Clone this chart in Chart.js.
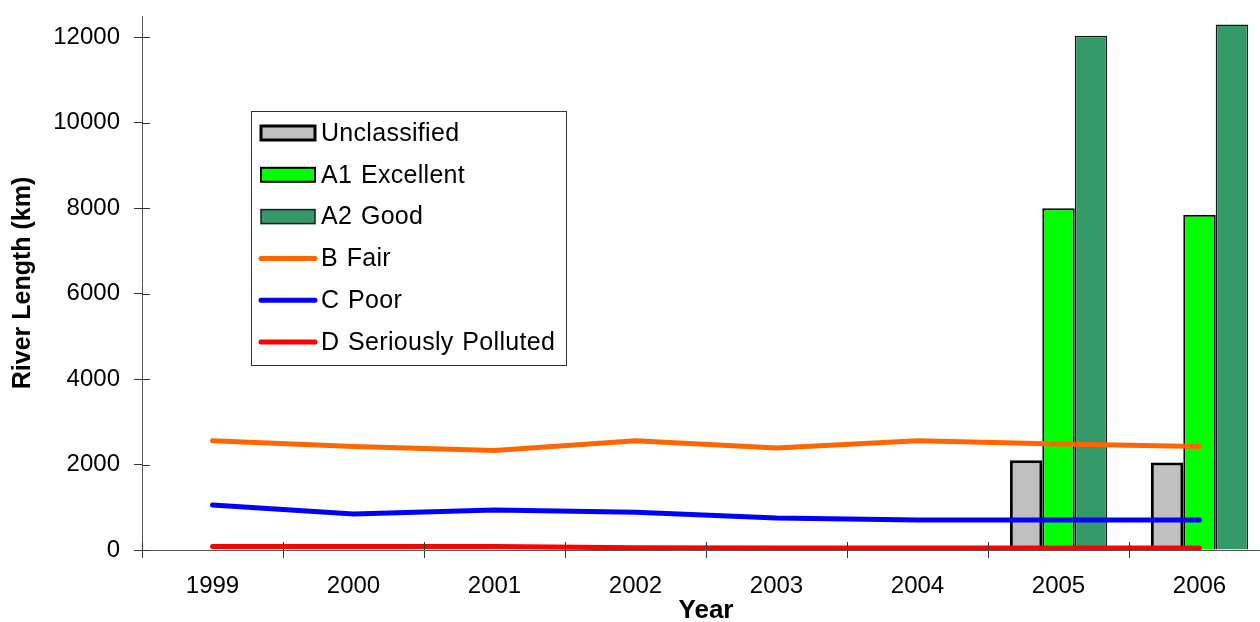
<!DOCTYPE html>
<html>
<head>
<meta charset="utf-8">
<script src="https://cdn.jsdelivr.net/npm/chart.js@4.4.1/dist/chart.umd.min.js"></script>
<style>
  html, body { margin: 0; padding: 0; background: #fff; overflow: hidden; }
  #wrap { width: 1270px; height: 622px; }
</style>
</head>
<body>
<div id="wrap"><canvas id="c" width="1270" height="622"></canvas></div>
<script>
// River length by water quality class (km)
const years = ['1999', '2000', '2001', '2002', '2003', '2004', '2005', '2006'];
const unclassified = [null, null, null, null, null, null, 2100, 2050];
const a1Excellent = [null, null, null, null, null, null, 8000, 7850];
const a2Good = [null, null, null, null, null, null, 12040, 12300];
const bFair = [2560, 2420, 2330, 2560, 2390, 2560, 2480, 2420];
const cPoor = [1055, 840, 935, 885, 750, 705, 700, 700];
const dSerious = [80, 80, 80, 50, 45, 45, 45, 45];
const yTicks = [0, 2000, 4000, 6000, 8000, 10000, 12000];

const FONT = 'Arial, "Liberation Sans", Helvetica, sans-serif';

// Short tick marks that cross the axis lines (inner half)
const innerTicks = {
  id: 'innerTicks',
  afterDraw(chart) {
    const ctx = chart.ctx;
    const x = chart.scales.x, y = chart.scales.y;
    const area = chart.chartArea;
    ctx.save();
    ctx.strokeStyle = '#333';
    ctx.lineWidth = 1;
    ctx.beginPath();
    y.ticks.forEach((t, i) => {
      const py = Math.round(y.getPixelForTick(i)) + 0.5;
      ctx.moveTo(area.left, py);
      ctx.lineTo(area.left + 8, py);
    });
    for (let i = 0; i <= x.ticks.length; i++) {
      const px = Math.round(x.left + (x.width / x.ticks.length) * i) + 0.5;
      ctx.moveTo(px, area.bottom);
      ctx.lineTo(px, area.bottom - 8);
    }
    ctx.stroke();
    ctx.restore();
  }
};

// Boxed legend placed inside the plot
const boxLegend = {
  id: 'boxLegend',
  afterDraw(chart) {
    const ctx = chart.ctx;
    const left = 251, top = 111, w = 315, h = 254;
    const rowStart = 133, rowGap = 41.8;
    ctx.save();
    ctx.fillStyle = '#fff';
    ctx.fillRect(left, top, w, h);
    ctx.strokeStyle = '#333';
    ctx.lineWidth = 1;
    ctx.strokeRect(left + 0.5, top + 0.5, w, h);
    chart.data.datasets.forEach((ds, i) => {
      const cy = rowStart + i * rowGap;
      if (ds.type === 'bar') {
        ctx.fillStyle = ds.backgroundColor;
        ctx.fillRect(261, cy - 7, 54, 14);
        ctx.strokeStyle = ds.borderColor;
        ctx.lineWidth = ds.borderWidth;
        ctx.strokeRect(261, cy - 7, 54, 14);
      } else {
        ctx.strokeStyle = ds.borderColor;
        ctx.lineWidth = 5;
        ctx.lineCap = 'round';
        ctx.beginPath();
        ctx.moveTo(261, cy);
        ctx.lineTo(315, cy);
        ctx.stroke();
      }
      ctx.fillStyle = '#000';
      ctx.font = '25px ' + FONT;
      if ('letterSpacing' in ctx) ctx.letterSpacing = '0.3px';
      if ('wordSpacing' in ctx) ctx.wordSpacing = '1.5px';
      ctx.textBaseline = 'middle';
      ctx.textAlign = 'left';
      ctx.fillText(ds.label, 321, cy + 1);
    });
    ctx.restore();
  }
};

new Chart(document.getElementById('c'), {
  data: {
    labels: years,
    datasets: [
      { type: 'bar', label: 'Unclassified', data: unclassified, backgroundColor: '#C0C0C0', borderColor: '#000', borderWidth: 3, order: 2 },
      { type: 'bar', label: 'A1 Excellent', data: a1Excellent, backgroundColor: '#00FF00', borderColor: '#000', borderWidth: 2, order: 2 },
      { type: 'bar', label: 'A2 Good', data: a2Good, backgroundColor: '#339966', borderColor: '#1a1a1a', borderWidth: 1.5, order: 2 },
      { type: 'line', label: 'B Fair', data: bFair, borderColor: '#FF6600', backgroundColor: '#FF6600', borderWidth: 5, pointRadius: 0, tension: 0, order: 1, borderCapStyle: 'round' },
      { type: 'line', label: 'C Poor', data: cPoor, borderColor: '#0000FF', backgroundColor: '#0000FF', borderWidth: 5, pointRadius: 0, tension: 0, order: 1, borderCapStyle: 'round' },
      { type: 'line', label: 'D Seriously Polluted', data: dSerious, borderColor: '#FF0000', backgroundColor: '#FF0000', borderWidth: 5, pointRadius: 0, tension: 0, order: 1, borderCapStyle: 'round' }
    ]
  },
  options: {
    responsive: false,
    animation: false,
    layout: { padding: { top: 16, right: 0, bottom: 0, left: 0 } },
    plugins: { legend: { display: false }, tooltip: { enabled: false } },
    datasets: { bar: { categoryPercentage: 0.69, barPercentage: 1.0 } },
    scales: {
      x: {
        offset: true,
        grid: { offset: true, drawOnChartArea: false, tickLength: 8, color: '#333', tickColor: '#333' },
        border: { color: '#555', width: 1 },
        ticks: { color: '#000', font: { family: FONT, size: 24 }, padding: 14, maxRotation: 0 },
        title: { display: true, text: 'Year', color: '#000', font: { family: FONT, size: 26, weight: 'bold', lineHeight: 1 }, padding: { top: 0, bottom: -2 } },
        afterFit(scale) { scale.height = 72; scale.paddingLeft = 0; scale.paddingRight = 0; }
      },
      y: {
        min: 0,
        max: 12500,
        grid: { drawOnChartArea: false, tickLength: 8, color: '#333', tickColor: '#333' },
        border: { color: '#555', width: 1 },
        ticks: { stepSize: 2000, color: '#000', font: { family: FONT, size: 24 }, padding: 14, callback: v => String(v) },
        afterBuildTicks(scale) { scale.ticks = yTicks.map(v => ({ value: v })); },
        title: { display: true, text: 'River Length (km)', color: '#000', font: { family: FONT, size: 25, weight: 'bold', lineHeight: 1 }, padding: { top: 11, bottom: 0 } },
        afterFit(scale) { scale.width = 142; scale.paddingTop = 0; scale.paddingBottom = 0; }
      }
    }
  },
  plugins: [innerTicks, boxLegend]
});
</script>
</body>
</html>
